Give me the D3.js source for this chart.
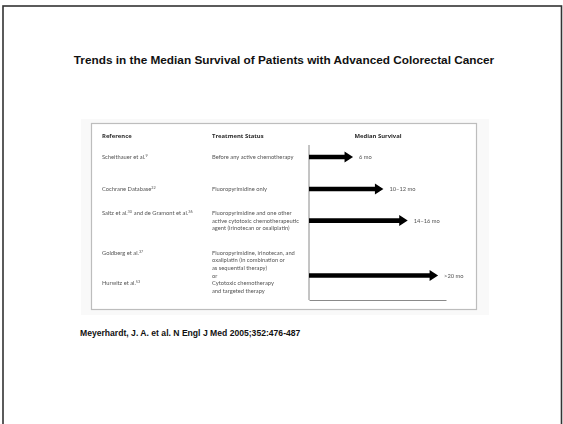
<!DOCTYPE html>
<html>
<head>
<meta charset="utf-8">
<script src="https://cdn.jsdelivr.net/npm/d3@7"></script>
<style>
  html, body { margin: 0; padding: 0; background: #fff; }
  svg { display: block; }
</style>
</head>
<body>
<svg id="chart" width="563" height="424"></svg>
<script>
// Reference column: one entry per row, each a list of text lines ("^" marks a superscript)
const referenceLines = [
  ["Scheithauer et al.^9"],
  ["Cochrane Database^22"],
  ["Saltz et al.^30 and de Gramont et al.^36"],
  ["Goldberg et al.^37", "", "", "", "Hurwitz et al.^53"]
];

// Treatment status column
const treatmentLines = [
  ["Before any active chemotherapy"],
  ["Fluoropyrimidine only"],
  ["Fluoropyrimidine and one other", "active cytotoxic chemotherapeutic", "agent (irinotecan or oxaliplatin)"],
  ["Fluoropyrimidine, irinotecan, and", "oxaliplatin (in combination or", "as sequential therapy)", "or", "Cytotoxic chemotherapy", "and targeted therapy"]
];

// Median survival (months) and its printed label
const survivalMonths = [6, 11, 15, 20];
const survivalLabels = ["6 mo", "10\u201312 mo", "14\u201316 mo", ">20 mo"];

const headers = ["Reference", "Treatment Status", "Median Survival"];

const titleText = "Trends in the Median Survival of Patients with Advanced Colorectal Cancer";
const sourceText = "Meyerhardt, J. A. et al. N Engl J Med 2005;352:476-487";

const svg = d3.select("#chart");

// slide frame
svg.append("rect")
  .attr("x", 3).attr("y", 6).attr("width", 558.5).attr("height", 430)
  .attr("fill", "none").attr("stroke", "#333").attr("stroke-width", 1.6);

svg.append("text")
  .attr("x", 284).attr("y", 63.5)
  .attr("text-anchor", "middle")
  .attr("font-family", "Liberation Sans, Arial, sans-serif")
  .attr("font-weight", "bold").attr("font-size", 11.8)
  .attr("fill", "#111")
  .text(titleText);

svg.append("text")
  .attr("x", 80).attr("y", 336)
  .attr("font-family", "Liberation Sans, Arial, sans-serif")
  .attr("font-weight", "bold").attr("font-size", 8.6)
  .attr("fill", "#111")
  .text(sourceText);

// table figure, slightly soft as a scanned inset
const defs = svg.append("defs");
defs.append("filter").attr("id", "soft")
  .append("feGaussianBlur").attr("stdDeviation", 0.35);

const fig = svg.append("g").attr("filter", "url(#soft)");

fig.append("rect")
  .attr("x", 81).attr("y", 119).attr("width", 408).attr("height", 196)
  .attr("fill", "#f9f9f9");
fig.append("rect")
  .attr("x", 91.5).attr("y", 123.5).attr("width", 385).attr("height", 186)
  .attr("fill", "#fff").attr("stroke", "#bdbdbd").attr("stroke-width", 1.2);

const textFont = "Lato, 'Open Sans', sans-serif";
const textColor = "#555";
const textSize = 5.75;
const colX = [102, 212];
const lineH = 7.6;
const rowTop = [157, 189, 213, 252.7];

// x scale for survival arrows
const x = d3.scaleLinear().domain([-1.25, 21.3]).range([309, 446]);
const [x0, x1] = x.range();

// headers
fig.selectAll("text.hdr")
  .data(headers)
  .join("text")
  .attr("class", "hdr")
  .attr("x", (d, i) => i < 2 ? colX[i] : 378)
  .attr("y", 138)
  .attr("text-anchor", (d, i) => i < 2 ? "start" : "middle")
  .attr("font-family", "'Open Sans', Lato, sans-serif").attr("font-weight", 700)
  .attr("font-size", 5.9).attr("fill", "#2a2a2a")
  .text(d => d);

function writeLine(sel, str) {
  const parts = str.split(/(\^\d+)/).filter(s => s.length);
  parts.forEach(p => {
    if (p[0] === "^") {
      sel.append("tspan").attr("font-size", 3.8).attr("dy", -2).text(p.slice(1));
      sel.append("tspan").attr("dy", 2).text("\u200a");
    } else {
      sel.append("tspan").text(p);
    }
  });
}

referenceLines.forEach((lines, r) => {
  lines.forEach((ln, k) => {
    if (!ln) return;
    const t = fig.append("text")
      .attr("x", colX[0]).attr("y", rowTop[r] + k * lineH + 2)
      .attr("font-family", textFont).attr("font-size", textSize).attr("fill", textColor);
    writeLine(t, ln);
  });
});

treatmentLines.forEach((lines, r) => {
  lines.forEach((ln, k) => {
    fig.append("text")
      .attr("x", colX[1]).attr("y", rowTop[r] + k * lineH + 2)
      .attr("font-family", textFont).attr("font-size", textSize).attr("fill", textColor)
      .text(ln);
  });
});

// axis lines
fig.append("line")
  .attr("x1", x0).attr("x2", x0).attr("y1", 145).attr("y2", 300)
  .attr("stroke", "#8a8a8a").attr("stroke-width", 1);
const axisG = fig.append("g").attr("transform", "translate(0,300)")
  .call(d3.axisBottom(x).tickValues([]).tickSizeOuter(0));
axisG.select(".domain").attr("stroke", "#8a8a8a").attr("stroke-width", 1);

// arrows
const arrowY = r => rowTop[r] + Math.floor(treatmentLines[r].length / 2) * lineH;
const shaft = 4.6, head = 11, headLen = 8.5;

fig.selectAll("path.arrow")
  .data(survivalMonths)
  .join("path")
  .attr("class", "arrow")
  .attr("fill", "#000")
  .attr("d", (v, r) => {
    const y = arrowY(r), xe = x(v), xb = xe - headLen;
    return d3.line()([
      [x0, y - shaft / 2], [xb, y - shaft / 2], [xb, y - head / 2], [xe, y],
      [xb, y + head / 2], [xb, y + shaft / 2], [x0, y + shaft / 2]
    ]) + "Z";
  });

fig.selectAll("text.lbl")
  .data(survivalMonths)
  .join("text")
  .attr("class", "lbl")
  .attr("x", v => x(v) + 6)
  .attr("y", (v, r) => arrowY(r) + 2)
  .attr("font-family", textFont).attr("font-size", textSize).attr("fill", textColor)
  .text((v, r) => survivalLabels[r]);
</script>
</body>
</html>
